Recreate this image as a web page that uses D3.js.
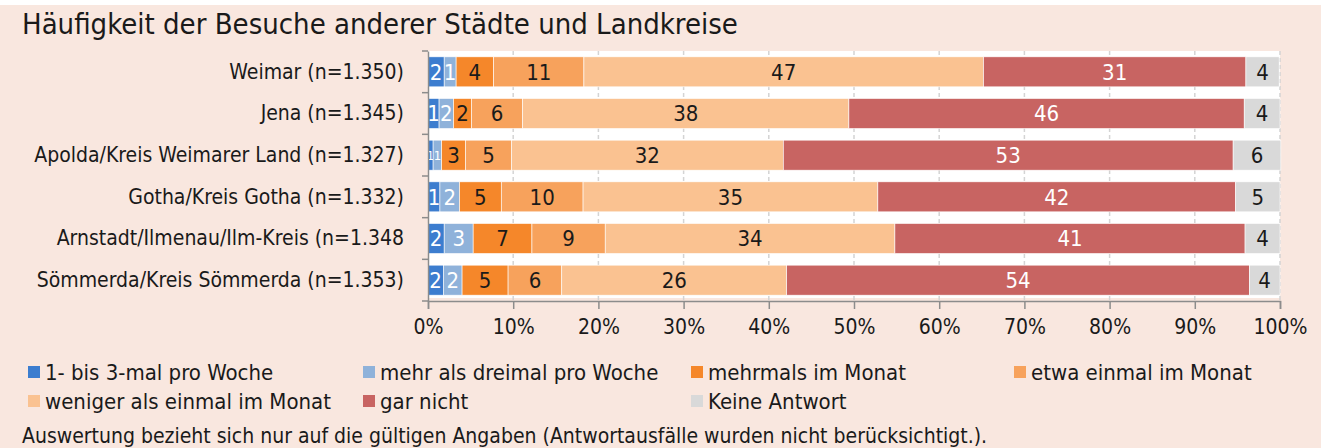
<!DOCTYPE html>
<html>
<head>
<meta charset="utf-8">
<script src="https://cdn.jsdelivr.net/npm/d3@7"></script>
<style>
  html, body { margin: 0; padding: 0; background: #f9e7df; }
  svg { display: block; }
  text { font-family: "DejaVu Sans Condensed", "Liberation Sans Narrow", sans-serif; fill: #1a1a1a; }
</style>
</head>
<body>
<div class="chart"></div>
<script>
  // Data (percent shares)
  let categories = [
    "Weimar (n=1.350)",
    "Jena (n=1.345)",
    "Apolda/Kreis Weimarer Land (n=1.327)",
    "Gotha/Kreis Gotha (n=1.332)",
    "Arnstadt/Ilmenau/Ilm-Kreis (n=1.348",
    "Sömmerda/Kreis Sömmerda (n=1.353)"
  ];
  let seriesNames = [
    "1- bis 3-mal pro Woche",
    "mehr als dreimal pro Woche",
    "mehrmals im Monat",
    "etwa einmal im Monat",
    "weniger als einmal im Monat",
    "gar nicht",
    "Keine Antwort"
  ];
  let perWeek13   = [1.9, 1.3, 0.6, 1.4, 1.9, 1.8];
  let perWeekMore = [1.4, 1.7, 1.0, 2.3, 3.4, 2.2];
  let severalMonth = [4.4, 2.1, 2.8, 4.9, 6.9, 5.4];
  let onceMonth   = [10.6, 6.0, 5.4, 9.6, 8.6, 6.3];
  let lessMonth   = [46.9, 38.3, 31.9, 34.6, 34.0, 26.4];
  let never       = [30.8, 46.4, 52.8, 42.0, 41.1, 54.3];
  let noAnswer    = [3.9, 4.2, 5.6, 5.2, 4.1, 3.6];
  let tickValues = [0, 10, 20, 30, 40, 50, 60, 70, 80, 90, 100];

  let colors = ["#3c7dcf", "#8fb2da", "#f5872a", "#f7a25c", "#fac291", "#c86462", "#d9d9d9"];
  let labelColors = ["#ffffff", "#ffffff", "#1a1a1a", "#1a1a1a", "#1a1a1a", "#ffffff", "#1a1a1a"];

  let width = 1321, height = 448;
  let plot = { left: 428, right: 1280, top: 51, bottom: 301 };

  let svg = d3.select("div.chart").append("svg")
      .attr("width", width)
      .attr("height", height);

  // Build table rows for the stack
  let allSeries = [perWeek13, perWeekMore, severalMonth, onceMonth, lessMonth, never, noAnswer];
  let rows = categories.map(function(c, i) {
    let r = { cat: c };
    seriesNames.forEach(function(s, j) { r[s] = allSeries[j][i]; });
    return r;
  });
  let stacked = d3.stack().keys(seriesNames)(rows);

  let x = d3.scaleLinear().domain([0, 100]).range([plot.left, plot.right]);
  let y = d3.scaleBand().domain(categories).range([plot.top, plot.bottom])
      .paddingInner(0.28).paddingOuter(0.14);

  // White strip at the very top and title
  svg.append("rect").attr("x", 0).attr("y", 0).attr("width", width).attr("height", 5).attr("fill", "#ffffff");
  svg.append("text")
      .attr("x", 22).attr("y", 34)
      .style("font-size", "29px")
      .text("Häufigkeit der Besuche anderer Städte und Landkreise");

  // Plot background
  svg.append("rect")
      .attr("x", plot.left).attr("y", plot.top)
      .attr("width", plot.right - plot.left).attr("height", plot.bottom - plot.top - 3)
      .attr("fill", "#ffffff");

  // Gridlines
  svg.append("g").selectAll("line")
    .data(tickValues.slice(1))
    .join("line")
      .attr("x1", d => x(d)).attr("x2", d => x(d))
      .attr("y1", plot.top).attr("y2", plot.bottom)
      .attr("stroke", "#d4d4d4")
      .attr("stroke-width", 1.5)
      .attr("stroke-dasharray", "4,3");

  // Bars
  let groups = svg.append("g").selectAll("g")
    .data(stacked)
    .join("g")
      .attr("fill", (d, i) => colors[i]);

  groups.selectAll("rect")
    .data(d => d)
    .join("rect")
      .attr("x", d => x(d[0]))
      .attr("y", d => y(d.data.cat))
      .attr("width", d => x(d[1]) - x(d[0]))
      .attr("height", y.bandwidth())
      .attr("stroke", "#ffffff")
      .attr("stroke-width", 0.6);

  // Value labels (smaller where the segment is very narrow)
  groups.each(function(series, si) {
    d3.select(this).selectAll("text")
      .data(series)
      .join("text")
        .attr("x", d => (x(d[0]) + x(d[1])) / 2)
        .attr("y", d => y(d.data.cat) + y.bandwidth() / 2)
        .attr("dy", "0.36em")
        .attr("text-anchor", "middle")
        .style("font-size", d => (x(d[1]) - x(d[0]) < 10 ? "13px" : "22px"))
        .style("fill", labelColors[si])
        .text(d => Math.round(d[1] - d[0]));
  });

  // Axes
  let xAxis = svg.append("g")
      .attr("transform", "translate(0," + plot.bottom + ")")
      .call(d3.axisBottom(x).tickValues(tickValues).tickFormat(d => d + "%").tickSize(8).tickPadding(10));
  xAxis.select(".domain").attr("stroke", "#8c8c8c").attr("stroke-width", 1.5);
  xAxis.selectAll(".tick line").attr("stroke", "#8c8c8c").attr("stroke-width", 1.5);
  xAxis.selectAll("text").attr("font-family", null).style("font-size", "21px").style("fill", "#1a1a1a");

  let yAxis = svg.append("g")
      .attr("transform", "translate(" + plot.left + ",0)")
      .call(d3.axisLeft(y).tickSize(0).tickPadding(24));
  yAxis.select(".domain").attr("stroke", "#8c8c8c").attr("stroke-width", 1.5);
  yAxis.selectAll("text").attr("font-family", null).style("font-size", "21px").style("fill", "#1a1a1a");

  // Boundary ticks between categories on the y axis
  let bounds = d3.range(categories.length + 1).map(i => plot.top + i * y.step());
  svg.append("g").selectAll("line")
    .data(bounds)
    .join("line")
      .attr("x1", plot.left - 6).attr("x2", plot.left)
      .attr("y1", d => d).attr("y2", d => d)
      .attr("stroke", "#8c8c8c")
      .attr("stroke-width", 1.5);

  // Legend
  let legendCols = [28, 363, 691, 1014];
  let legendRows = [372, 401];
  let legend = svg.append("g").selectAll("g")
    .data(seriesNames)
    .join("g")
      .attr("transform", (d, i) => "translate(" + legendCols[i % 4] + "," + legendRows[Math.floor(i / 4)] + ")");
  legend.append("rect")
      .attr("x", 0).attr("y", -6)
      .attr("width", 12).attr("height", 12)
      .attr("fill", (d, i) => colors[i]);
  legend.append("text")
      .attr("x", 17).attr("dy", "0.36em")
      .style("font-size", "22px")
      .text(d => d);

  // Footnote
  svg.append("text")
      .attr("x", 22).attr("y", 443)
      .style("font-size", "21px")
      .text("Auswertung bezieht sich nur auf die gültigen Angaben (Antwortausfälle wurden nicht berücksichtigt.).");
</script>
</body>
</html>
